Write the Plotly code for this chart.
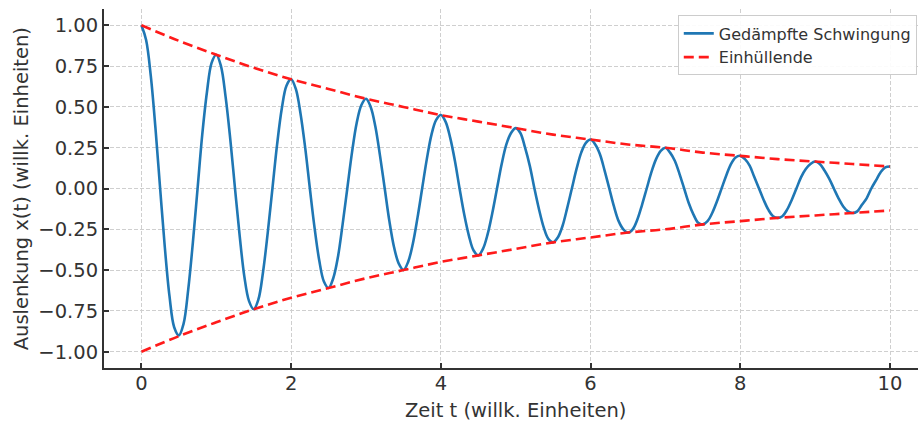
import plotly.graph_objects as go

# Time grid (1/16 steps, 0..10)
t = [i / 16 for i in range(161)]

# Damped oscillation values at each 1/16 step
x_vals = [
    1.00, 0.91, 0.69, 0.37, 0.00, -0.36, -0.66, -0.85,
    -0.90, -0.83, -0.62, -0.33, 0.00, 0.33, 0.59, 0.77,
    0.82, 0.75, 0.56, 0.30, 0.00, -0.29, -0.54, -0.69,
    -0.74, -0.68, -0.51, -0.27, 0.00, 0.27, 0.49, 0.63,
    0.67, 0.61, 0.46, 0.25, 0.00, -0.24, -0.44, -0.57,
    -0.61, -0.55, -0.42, -0.22, 0.00, 0.22, 0.40, 0.51,
    0.55, 0.50, 0.38, 0.20, 0.00, -0.20, -0.36, -0.46,
    -0.50, -0.45, -0.34, -0.18, 0.00, 0.18, 0.33, 0.42,
    0.45, 0.41, 0.31, 0.17, 0.00, -0.16, -0.29, -0.38,
    -0.41, -0.37, -0.28, -0.15, 0.00, 0.15, 0.27, 0.34,
    0.37, 0.34, 0.25, 0.14, 0.00, -0.13, -0.24, -0.31,
    -0.33, -0.30, -0.23, -0.12, 0.00, 0.12, 0.22, 0.28,
    0.30, 0.27, 0.21, 0.11, 0.00, -0.11, -0.20, -0.25,
    -0.27, -0.25, -0.19, -0.10, 0.00, 0.10, 0.18, 0.23,
    0.25, 0.22, 0.17, 0.09, 0.00, -0.09, -0.16, -0.21,
    -0.22, -0.20, -0.15, -0.08, 0.00, 0.08, 0.15, 0.19,
    0.20, 0.18, 0.14, 0.07, 0.00, -0.07, -0.13, -0.17,
    -0.18, -0.17, -0.13, -0.07, 0.00, 0.07, 0.12, 0.15,
    0.165, 0.15, 0.11, 0.06, 0.00, -0.06, -0.11, -0.14,
    -0.15, -0.14, -0.10, -0.06, 0.00, 0.05, 0.10, 0.13,
    0.135,
]

# Envelope read at half-unit steps
t_env = [0, 0.5, 1, 1.5, 2, 2.5, 3, 3.5, 4, 4.5, 5, 5.5, 6, 6.5, 7, 7.5, 8, 8.5, 9, 9.5, 10]
env_upper = [1.00, 0.905, 0.82, 0.74, 0.67, 0.61, 0.55, 0.50, 0.45, 0.41, 0.37,
             0.33, 0.30, 0.27, 0.25, 0.22, 0.20, 0.18, 0.165, 0.15, 0.135]
env_lower = [-v for v in env_upper]

x_ticks = [0, 2, 4, 6, 8, 10]
y_ticks = [-1.0, -0.75, -0.5, -0.25, 0.0, 0.25, 0.5, 0.75, 1.0]

FONT = "DejaVu Sans"
TXT = "#333333"
RED = "#ff1a1a"

fig = go.Figure()
fig.add_trace(go.Scatter(
    x=t, y=x_vals, mode="lines", name="Gedämpfte Schwingung",
    line=dict(color="#1f77b4", width=2.6, shape="spline", smoothing=1.0),
))
fig.add_trace(go.Scatter(
    x=t_env, y=env_upper, mode="lines", name="Einhüllende",
    line=dict(color=RED, width=2.6, dash="10px,5px", shape="spline"),
))
fig.add_trace(go.Scatter(
    x=t_env, y=env_lower, mode="lines", name="Einhüllende", showlegend=False,
    line=dict(color=RED, width=2.6, dash="10px,5px", shape="spline"),
))

axis_common = dict(
    showline=True, linecolor="#333333", linewidth=2,
    ticks="inside", ticklen=5, tickwidth=1.5, tickcolor="#333333",
    showgrid=True, gridcolor="#cfcfcf", gridwidth=1, griddash="4px,2px",
    zeroline=False, mirror=False, automargin=False,
    tickfont=dict(family=FONT, size=19.5, color=TXT),
)

fig.update_layout(
    width=918, height=421,
    margin=dict(l=104, r=0, t=9, b=53),
    paper_bgcolor="white", plot_bgcolor="white",
    font=dict(family=FONT, color=TXT),
    showlegend=True,
    legend=dict(
        x=0.9985, xanchor="right", y=0.982, yanchor="top",
        bgcolor="rgba(255,255,255,0.9)", bordercolor="#cccccc", borderwidth=1,
        font=dict(family=FONT, size=16, color=TXT),
        tracegroupgap=0, entrywidth=231, entrywidthmode="pixels",
    ),
    xaxis=dict(
        range=[-0.5, 10.374], tickvals=x_ticks, ticktext=[str(v) for v in x_ticks],
        ticklabelstandoff=-3,
        **axis_common,
    ),
    yaxis=dict(
        range=[-1.1, 1.1], tickvals=y_ticks, tickformat=".2f",
        **axis_common,
    ),
    annotations=[
        dict(text="Zeit t (willk. Einheiten)", xref="paper", yref="paper",
             x=0.506, y=-0.117, xanchor="center", yanchor="middle", showarrow=False,
             font=dict(family=FONT, size=19.5, color=TXT)),
        dict(text="Auslenkung x(t) (willk. Einheiten)", xref="paper", yref="paper",
             x=-0.101, y=0.5, xanchor="center", yanchor="middle", showarrow=False,
             textangle=-90, font=dict(family=FONT, size=19.5, color=TXT)),
    ],
)

# Remove the default 8px page margin so the figure fills the 918x421 window exactly
fig.write_html(
    "out.html",
    config={"displayModeBar": False},
    post_script="document.body.style.margin='0';",
)
